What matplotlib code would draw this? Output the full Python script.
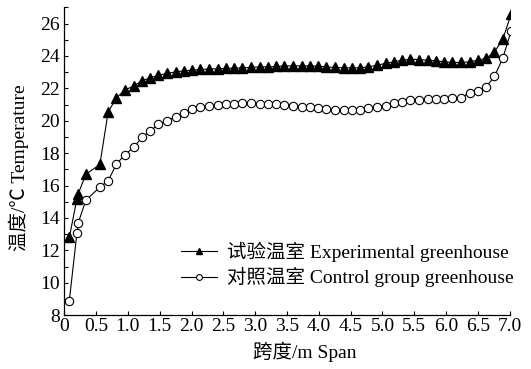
import matplotlib
matplotlib.use("Agg")
import matplotlib.pyplot as plt
from matplotlib.ticker import MultipleLocator

# span positions (m)
span = [0.08, 0.20, 0.22, 0.34, 0.56,
        0.69, 0.82, 0.95, 1.09, 1.22, 1.35, 1.48, 1.61, 1.75, 1.88,
        2.01, 2.14, 2.27, 2.41, 2.54, 2.67, 2.80, 2.93, 3.07, 3.20,
        3.33, 3.46, 3.59, 3.73, 3.86, 3.99, 4.12, 4.25, 4.39, 4.52,
        4.65, 4.78, 4.91, 5.05, 5.18, 5.31, 5.44, 5.57, 5.71, 5.84,
        5.97, 6.10, 6.23, 6.37, 6.50, 6.63, 6.76, 6.89, 7.02]

exp_temp = [12.8, 15.2, 15.5, 16.7, 17.3,
            20.55, 21.41, 21.89, 22.15, 22.46, 22.65, 22.81, 22.92, 23.02, 23.08,
            23.12, 23.17, 23.19, 23.21, 23.23, 23.25, 23.27, 23.29, 23.33, 23.33,
            23.35, 23.39, 23.39, 23.39, 23.39, 23.37, 23.33, 23.29, 23.27, 23.27,
            23.27, 23.33, 23.43, 23.54, 23.64, 23.74, 23.80, 23.78, 23.74, 23.70,
            23.64, 23.60, 23.60, 23.64, 23.74, 23.85, 24.25, 25.02, 26.58]

ctrl_temp = [8.9, 13.1, 13.7, 15.1, 15.9,
             16.3, 17.32, 17.9, 18.35, 18.97, 19.38, 19.77, 20.0, 20.24, 20.49,
             20.72, 20.86, 20.92, 21.0, 21.04, 21.06, 21.09, 21.09, 21.06, 21.04,
             21.02, 21.0, 20.94, 20.86, 20.82, 20.76, 20.72, 20.65, 20.65, 20.67,
             20.69, 20.76, 20.86, 20.94, 21.07, 21.17, 21.27, 21.31, 21.33, 21.35,
             21.37, 21.40, 21.42, 21.72, 21.81, 22.09, 22.75, 23.85, 25.53]

xticks = [0, 0.5, 1.0, 1.5, 2.0, 2.5, 3.0, 3.5, 4.0, 4.5, 5.0, 5.5, 6.0, 6.5, 7.0]
xtick_labels = ['0', '0.5', '1.0', '1.5', '2.0', '2.5', '3.0', '3.5', '4.0',
                '4.5', '5.0', '5.5', '6.0', '6.5', '7.0']

plt.rcParams['font.family'] = ['Liberation Serif', 'Noto Sans CJK SC']
plt.rcParams['axes.unicode_minus'] = False

fs = 14

fig = plt.figure(figsize=(5.31, 3.69), dpi=100)
ax = fig.add_axes([0.121, 0.146, 0.839, 0.834])

ax.plot(span, exp_temp, color='black', lw=0.8, marker='^', ms=7,
        mfc='black', mec='black', label='试验温室 Experimental greenhouse')
ax.plot(span, ctrl_temp, color='black', lw=0.8, marker='o', ms=6,
        mfc='white', mec='black', mew=0.8, label='对照温室 Control group greenhouse')

ax.set_xlim(0, 7.0)
ax.set_ylim(8, 27)
ax.set_xticks(xticks)
ax.set_xticklabels(xtick_labels)
ax.yaxis.set_major_locator(MultipleLocator(2))
ax.yaxis.set_minor_locator(MultipleLocator(1))

for s in ['top', 'right']:
    ax.spines[s].set_visible(False)
for s in ['left', 'bottom']:
    ax.spines[s].set_linewidth(0.9)

ax.tick_params(which='both', direction='in', length=3, width=0.8, labelsize=fs)
ax.tick_params(axis='y', pad=3)
ax.tick_params(axis='x', pad=2)

ax.set_xlabel('跨度/m Span', fontsize=fs, labelpad=5)
ax.xaxis.label.set_x(0.54)
ax.set_ylabel('温度/℃ Temperature', fontsize=fs, labelpad=8)
ax.yaxis.label.set_y(0.48)

ax.legend(loc='center left', bbox_to_anchor=(0.24, 0.165), frameon=False,
          fontsize=fs, borderpad=0, handlelength=1.85, handletextpad=0.5,
          labelspacing=0.3, markerscale=0.7)

fig.savefig('out.png', dpi=100)
